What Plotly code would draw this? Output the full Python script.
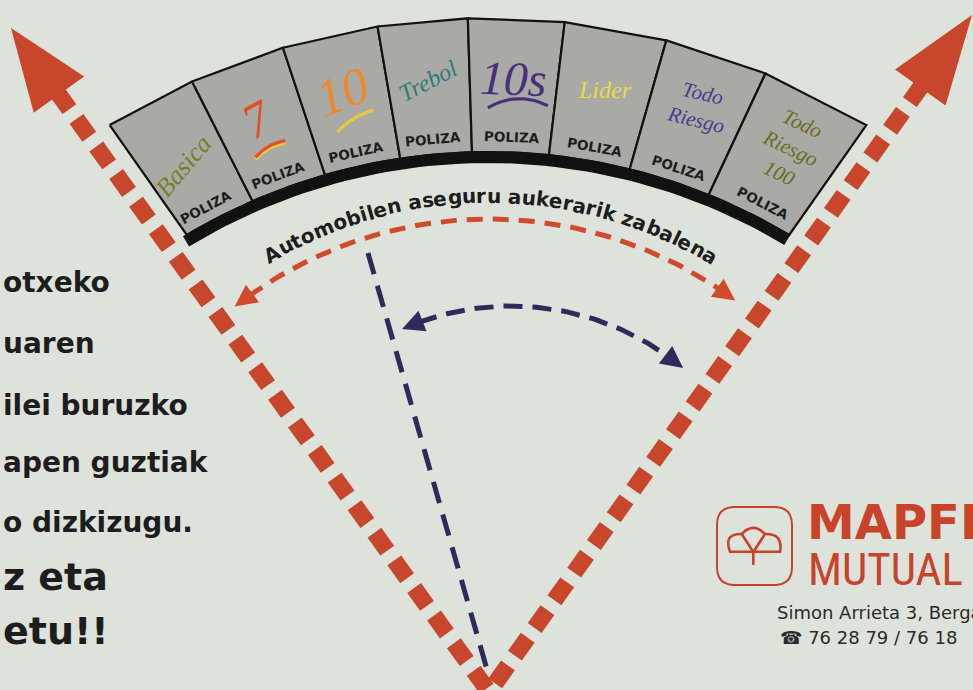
import numpy as np
import plotly.graph_objects as go

W, H = 973, 690
BG = "#dde3da"
RED = "#c8472c"
NAVY = "#2e2b5c"
CARD_GRAY = "#a9aaa5"
INK = "#1d1d1d"

# ---------------- content / values ----------------
CARD_NAMES = ["Basica", "7", "10", "Trebol", "10s", "Lider", "Todo<br>Riesgo", "Todo<br>Riesgo<br>100"]
CARD_NAME_COLORS = ["#7d7a2c", "#e04e26", "#eb8a2e", "#2c7d78", "#4a2f7c", "#e6dc44", "#4b3a8c", "#6e6a22"]
CARD_NAME_SIZES = [26, 50, 52, 24, 48, 24, 21, 21]
CARD_NAME_TILT = [-50, -8, -8, -22, 0, -10, -5, -2]
CARD_NAME_RADIUS = [650, 662, 665, 662, 662, 660, 668, 664]
CARD_EDGE_ANGLES = [-31.6, -24.2, -16.5, -8.8, -1.6, 6.1, 14.3, 22.6, 31.6]
CARD_SUBTITLE = "POLIZA"

UNDERLINE_CARD = [1, 1, 2, 4]
UNDERLINE_COLOR = ["#e8c83c", "#e0502a", "#e8c83c", "#4a2f7c"]
UNDERLINE_SHIFT = [2.5, 0, 0, 0]
UNDERLINE_LEN = [34, 34, 42, 60]
UNDERLINE_TILT = [-29, -29, -31, -2]
UNDERLINE_BULGE = [3, 3, 3, 8]
UNDERLINE_RADIUS = [630, 630, 633, 634]
UNDERLINE_ANGLE = [-20.2, -20.2, -12.1, 2.7]

ARC_TITLE = "Automobilen aseguru aukerarik zabalena"

LEFT_TEXT_LINES = ["otxeko", "uaren", "ilei buruzko", "apen guztiak", "o dizkizugu.", "z eta", "etu!!"]
LEFT_TEXT_SIZES = [28, 28, 28, 28, 28, 38, 38]
LEFT_TEXT_Y = [282, 343, 405, 462, 522, 577, 631]

BRAND = "MAPFRE"
BRAND_SUB = "MUTUAL"
ADDRESS = "Simon Arrieta 3, Bergara"
PHONE = "☎ 76 28 79 / 76 18"

# ---------------- geometry ----------------
FAN_CENTER = (488, 740)
R_OUT, R_IN = 722, 588
BIG_APEX = (489, 692)
BIG_TIPS = [(11, 28), (972, 15)]
BIG_HEAD_LEN = [82, 89]
BIG_HEAD_HALF = [31, 31]
RED_ARC_C, RED_ARC_R, RED_ARC_ANG = (489, 632), 413, (-38.0, 36.6)
NAVY_ARC_C, NAVY_ARC_R, NAVY_ARC_ANG = (511, 576), 270, (-23.8, 39.6)
NAVY_LINE = ((368, 253), (490, 680))
TEXT_ARC_R = 436
TEXT_ARC_ANG = (-29.8, 30.5)


def polar(c, r, deg):
    a = np.radians(deg)
    return c[0] + r * np.sin(a), c[1] - r * np.cos(a)


fig = go.Figure()


def poly(xs, ys, fill, line_color=None, lw=0):
    fig.add_trace(go.Scatter(
        x=list(xs) + [xs[0]], y=list(ys) + [ys[0]], mode="lines", fill="toself",
        fillcolor=fill, line=dict(color=line_color or fill, width=lw),
        hoverinfo="skip", showlegend=False))


def path(xs, ys, color, width, dash="solid"):
    fig.add_trace(go.Scatter(
        x=list(xs), y=list(ys), mode="lines",
        line=dict(color=color, width=width, dash=dash),
        hoverinfo="skip", showlegend=False))


# ---- cards ----
for i in range(len(CARD_NAMES)):
    a0, a1 = CARD_EDGE_ANGLES[i], CARD_EDGE_ANGLES[i + 1]
    p0 = polar(FAN_CENTER, R_OUT, a0)
    p1 = polar(FAN_CENTER, R_OUT, a1)
    inner = [polar(FAN_CENTER, R_IN, a) for a in np.linspace(a1 * 0.975, a0 * 0.975, 12)]
    xs = [p0[0], p1[0]] + [p[0] for p in inner]
    ys = [p0[1], p1[1]] + [p[1] for p in inner]
    poly(xs, ys, CARD_GRAY, "#111111", 2.2)

# black band under the cards
band_a = np.linspace(-31.2, 30.9, 60)
outer_b = [polar(FAN_CENTER, R_IN + 1, a) for a in band_a]
inner_b = [polar(FAN_CENTER, R_IN - 11, a) for a in band_a[::-1]]
poly([p[0] for p in outer_b + inner_b], [p[1] for p in outer_b + inner_b], "#111111")

# underlines under the hand-written numbers
for k in range(len(UNDERLINE_CARD)):
    cx, cy = polar(FAN_CENTER, UNDERLINE_RADIUS[k], UNDERLINE_ANGLE[k])
    cy += UNDERLINE_SHIFT[k]
    t = np.radians(UNDERLINE_TILT[k])
    d = np.array([np.cos(t), np.sin(t)])
    n = np.array([np.sin(t), -np.cos(t)])
    L = UNDERLINE_LEN[k] / 2
    s = np.linspace(-1, 1, 20)
    pts = [np.array([cx, cy]) + d * L * v + n * UNDERLINE_BULGE[k] * (1 - v * v) for v in s]
    path([p[0] for p in pts], [p[1] for p in pts], UNDERLINE_COLOR[k], 3.2)


# ---- thin red double arrow arc ----
def arc_arrow(c, r, angs, color, width, dash, head_len, head_half):
    a0, a1 = angs
    da = np.degrees(head_len / r)
    aa = np.linspace(a0 + da * 0.8, a1 - da * 0.8, 80)
    pts = [polar(c, r, a) for a in aa]
    path([p[0] for p in pts], [p[1] for p in pts], color, width, dash)
    for a_tip, sgn in ((a0, -1), (a1, 1)):
        tip = np.array(polar(c, r, a_tip))
        back = np.array(polar(c, r, a_tip - sgn * da))
        d = tip - back
        d /= np.linalg.norm(d)
        n = np.array([-d[1], d[0]])
        base = tip - d * head_len
        tri = [tip, base + n * head_half, base - n * head_half]
        poly([p[0] for p in tri], [p[1] for p in tri], color)


arc_arrow(RED_ARC_C, RED_ARC_R, RED_ARC_ANG, "#d24a2c", 5, "16px,10px", 22, 11)

# ---- navy lines ----
path([NAVY_LINE[0][0], NAVY_LINE[1][0]], [NAVY_LINE[0][1], NAVY_LINE[1][1]], NAVY, 5, "22px,12px")
arc_arrow(NAVY_ARC_C, NAVY_ARC_R, NAVY_ARC_ANG, NAVY, 5, "19px,10px", 22, 11)

# ---- big red dashed arrows ----
for k, tip in enumerate(BIG_TIPS):
    tip = np.array(tip, dtype=float)
    apex = np.array(BIG_APEX, dtype=float)
    d = tip - apex
    d /= np.linalg.norm(d)
    n = np.array([-d[1], d[0]])
    base = tip - d * BIG_HEAD_LEN[k]
    start = base + d * 4
    path([start[0], apex[0]], [start[1], apex[1]], RED, 17, "22px,12px")
    tri = [tip, base + n * BIG_HEAD_HALF[k], base - n * BIG_HEAD_HALF[k]]
    poly([p[0] for p in tri], [p[1] for p in tri], RED)

# ---------------- annotations ----------------
ann = []
for i, name in enumerate(CARD_NAMES):
    mid = (CARD_EDGE_ANGLES[i] + CARD_EDGE_ANGLES[i + 1]) / 2
    x, y = polar(FAN_CENTER, CARD_NAME_RADIUS[i], mid)
    ang = CARD_NAME_TILT[i] if i == 0 else mid + CARD_NAME_TILT[i]
    ann.append(dict(x=x, y=y, text=name, showarrow=False, textangle=ang,
                    font=dict(family="Liberation Serif", size=CARD_NAME_SIZES[i],
                              color=CARD_NAME_COLORS[i], style="italic"),
                    xanchor="center", yanchor="middle"))
    px, py = polar(FAN_CENTER, 603, mid)
    ann.append(dict(x=px, y=py, text=CARD_SUBTITLE, showarrow=False, textangle=mid,
                    font=dict(family="DejaVu Sans", size=13.5, color=INK, weight="bold"),
                    xanchor="center", yanchor="middle"))

# text along the arc
WID = {"A": .774, "u": .712, "t": .478, "o": .687, "m": 1.042, "b": .716, "i": .343,
       "l": .343, "e": .678, "n": .712, " ": .348, "a": .675, "s": .595, "g": .716,
       "r": .493, "k": .665, "z": .582}
w = np.array([WID.get(ch, .6) for ch in ARC_TITLE])
centers = np.cumsum(w) - w / 2
frac = (centers - centers[0]) / (centers[-1] - centers[0])
for ch, f in zip(ARC_TITLE, frac):
    if ch == " ":
        continue
    a = TEXT_ARC_ANG[0] + f * (TEXT_ARC_ANG[1] - TEXT_ARC_ANG[0])
    x, y = polar(RED_ARC_C, TEXT_ARC_R, a)
    ann.append(dict(x=x, y=y, text=ch, showarrow=False, textangle=a,
                    font=dict(family="DejaVu Sans", size=20, color=INK, weight="bold"),
                    xanchor="center", yanchor="middle"))

for txt, sz, yy in zip(LEFT_TEXT_LINES, LEFT_TEXT_SIZES, LEFT_TEXT_Y):
    ann.append(dict(x=1, y=yy, text=txt, showarrow=False, xanchor="left", yanchor="middle",
                    font=dict(family="DejaVu Sans", size=sz, color=INK, weight="bold")))

ann.append(dict(x=805, y=522, text=BRAND, showarrow=False, xanchor="left", yanchor="middle",
                font=dict(family="DejaVu Sans", size=48, color="#c8432a", weight="bold")))
ann.append(dict(x=806, y=569, text=BRAND_SUB, showarrow=False, xanchor="left", yanchor="middle",
                font=dict(family="Liberation Sans Narrow, Roboto Condensed, Roboto", size=45,
                          color="#c8432a")))
ann.append(dict(x=775, y=612, text=ADDRESS, showarrow=False, xanchor="left", yanchor="middle",
                font=dict(family="DejaVu Sans", size=18, color="#2a2a2a")))
ann.append(dict(x=778, y=637, text=PHONE, showarrow=False, xanchor="left", yanchor="middle",
                font=dict(family="DejaVu Sans", size=18, color="#2a2a2a")))

# logo
shapes = [
    dict(type="path", xref="x", yref="y",
         path="M 735,507 L 774,507 Q 792,507 792,525 L 792,567 Q 792,585 774,585 "
              "L 735,585 Q 717,585 717,567 L 717,525 Q 717,507 735,507 Z",
         line=dict(color="#c8432a", width=2), fillcolor="rgba(0,0,0,0)"),
    dict(type="path", xref="x", yref="y",
         path="M 730,551.7 Q 723.3,533.3 741.7,534 Q 753.3,521.7 765,534 "
              "Q 783.3,533.3 780,551.7 Z",
         line=dict(color="#c8432a", width=2.6), fillcolor="rgba(0,0,0,0)"),
    dict(type="path", xref="x", yref="y",
         path="M 741.7,534 L 753.3,552 L 765,534 M 753.3,552 L 753.3,565",
         line=dict(color="#c8432a", width=2.6)),
]

fig.update_layout(
    width=W, height=H, margin=dict(l=0, r=0, t=0, b=0),
    paper_bgcolor=BG, plot_bgcolor=BG, hovermode=False, showlegend=False,
    xaxis=dict(range=[0, W], visible=False, fixedrange=True),
    yaxis=dict(range=[H, 0], visible=False, fixedrange=True),
    annotations=ann, shapes=shapes,
)
fig.write_html("out.html", config={"displayModeBar": False},
               post_script="document.body.style.margin='0';document.body.style.background='" + BG + "';")
